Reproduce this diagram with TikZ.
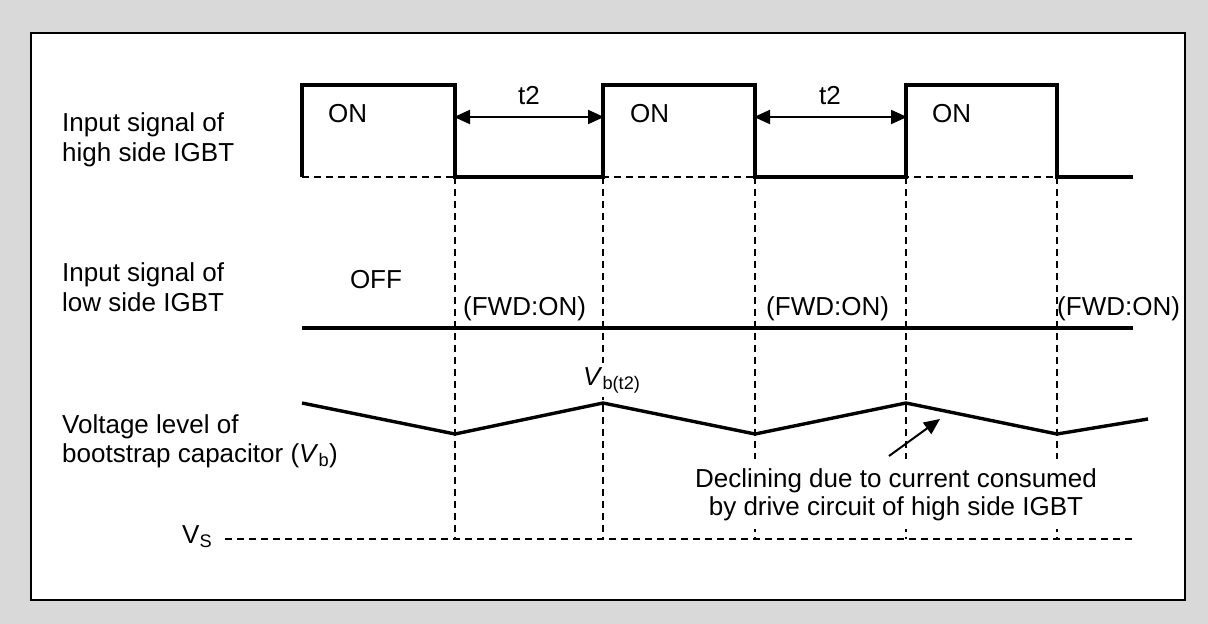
\documentclass[tikz,border=0pt]{standalone}
\usepackage{fontspec}
\setmainfont{Liberation Sans}
\usetikzlibrary{arrows.meta}
\definecolor{bgclr}{RGB}{217,217,217}
\tikzset{
    sig/.style={line width=3.4pt,line join=miter},
    guide/.style={line width=1.2pt,dash pattern=on 7pt off 5pt},
    lbl/.style={anchor=base west,inner sep=0pt,font=\fontsize{26}{28}\selectfont},
    dimarr/.style={{Triangle[length=16pt,width=14pt]}-{Triangle[length=16pt,width=14pt]},line width=2pt,shorten <=-1pt,shorten >=-1pt},
    notearr/.style={-{Triangle[length=16pt,width=14pt]},line width=2pt},
}

\begin{document}
\begin{tikzpicture}[x=1pt,y=-1pt]
\useasboundingbox (0,0) rectangle (1208,624);
\fill[bgclr] (0,0) rectangle (1208,624);
\draw[line width=1.5pt,fill=white] (31,33) rectangle (1185,600);

% edges of the high side pulses
\coordinate (r1) at (302,177);
\coordinate (f1) at (455,177);
\coordinate (r2) at (603,177);
\coordinate (f2) at (755,177);
\coordinate (r3) at (906,177);
\coordinate (f3) at (1057,177);

% row labels
\node[lbl] (hiA) at (62,131) {Input signal of};
\node[lbl] (hiB) at (62,161) {high side IGBT};
\node[lbl] (loA) at (62,281) {Input signal of};
\node[lbl] (loB) at (62,311) {low side IGBT};
\node[lbl] (vbA) at (62,433) {Voltage level of};
\node[lbl] (vbB) at (62,462) {bootstrap capacitor (\textit{V}\textsubscript{b})};
\node[lbl] (vs)  at (182,543) {V\textsubscript{S}};

% guide lines
\draw[guide] (r1) -- (1133,177);
\foreach \e in {f1,r2,f2,r3,f3}
    \draw[guide] (\e) -- (\e |- 0,539);
\draw[guide] (225,539) -- (1133,539);

% high side IGBT
\draw[sig] (r1) -- (302,85) -- (455,85) -- (f1) -- (r2) -- (603,85) -- (755,85)
    -- (f2) -- (r3) -- (906,85) -- (1057,85) -- (f3) -- (1133,177);
\node[lbl] (on1) at (328,122) {ON};
\node[lbl] (on2) at (630,122) {ON};
\node[lbl] (on3) at (932,122) {ON};
\draw[dimarr] (455,117) -- (603,117);
\draw[dimarr] (755,117) -- (906,117);
\node[lbl,anchor=base] (ta) at (529,104) {t2};
\node[lbl,anchor=base] (tb) at (830,104) {t2};

% low side IGBT
\draw[sig] (302,328) -- (1133,328);
\node[lbl,anchor=base] (off) at (376,288) {OFF};
\node[lbl] (fwd1) at (463,315) {(FWD:ON)};
\node[lbl] (fwd2) at (766,315) {(FWD:ON)};
\node[lbl] (fwd3) at (1057,315) {(FWD:ON)};

% bootstrap capacitor
\node[lbl,fill=white,inner ysep=4pt,inner xsep=1pt] (vbt) at (582,385) {\textit{V}\textsubscript{b(t2)}};
\draw[sig] (302,403) -- (455,434) -- (603,403) -- (755,434) -- (906,403)
    -- (1057,434) -- (1148,419);
\node[lbl,anchor=base,align=center,fill=white,inner xsep=4pt,inner ysep=9pt] (dec) at (896,515)
    {Declining due to current consumed\\by drive circuit of high side IGBT};
\coordinate (tail) at (889,456);
\coordinate (tip) at (940,419);
\draw[notearr] (tail) -- (tip);
\end{tikzpicture}
\end{document}
